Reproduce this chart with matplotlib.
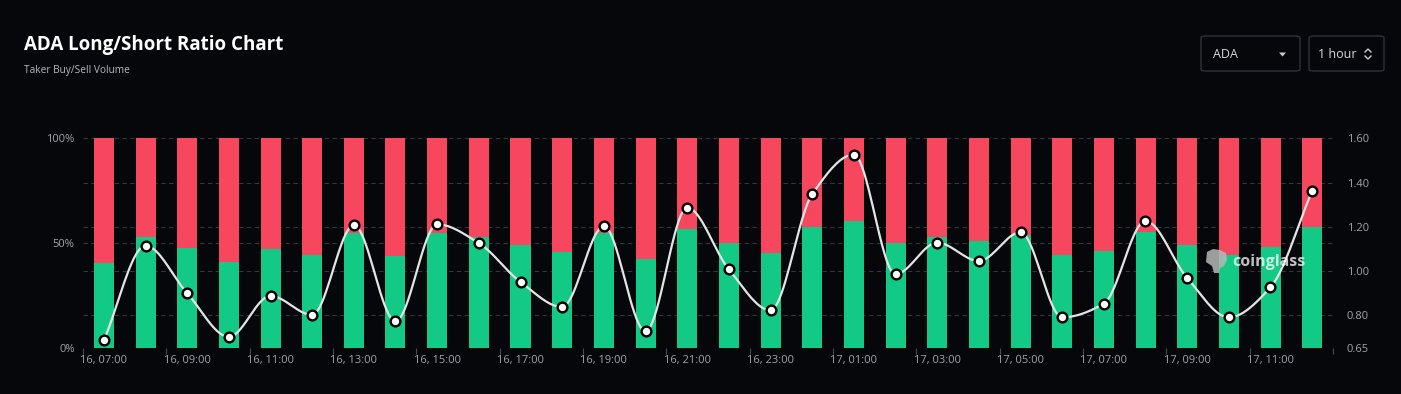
import numpy as np
import matplotlib
matplotlib.use("Agg")
import matplotlib.pyplot as plt
from matplotlib.patches import FancyBboxPatch, Polygon
from matplotlib.lines import Line2D

# Hourly data, 16 07:00 -> 17 12:00
HOURS = ["16, 07:00", "16, 08:00", "16, 09:00", "16, 10:00", "16, 11:00", "16, 12:00",
         "16, 13:00", "16, 14:00", "16, 15:00", "16, 16:00", "16, 17:00", "16, 18:00",
         "16, 19:00", "16, 20:00", "16, 21:00", "16, 22:00", "16, 23:00", "17, 00:00",
         "17, 01:00", "17, 02:00", "17, 03:00", "17, 04:00", "17, 05:00", "17, 06:00",
         "17, 07:00", "17, 08:00", "17, 09:00", "17, 10:00", "17, 11:00", "17, 12:00"]
LONG_PCT = [40.8, 52.9, 47.6, 41.2, 47.1, 44.6, 54.8, 43.8, 54.9, 53.1,
            49.0, 45.9, 54.8, 42.4, 56.7, 50.3, 45.2, 57.6, 60.6, 50.0,
            53.1, 51.2, 54.0, 44.3, 46.2, 55.2, 49.3, 44.3, 48.2, 57.9]
RATIO = [0.686, 1.114, 0.899, 0.702, 0.887, 0.801, 1.207, 0.772, 1.211, 1.126,
         0.950, 0.837, 1.202, 0.727, 1.286, 1.007, 0.822, 1.347, 1.526, 0.985,
         1.128, 1.045, 1.175, 0.790, 0.852, 1.226, 0.968, 0.790, 0.926, 1.362]
RATIO_TICKS = [0.65, 0.80, 1.00, 1.20, 1.40, 1.60]

BG = "#05070b"
GREEN = "#12c985"
RED = "#f6475f"
TICK_COLOR = "#a0a3a8"
GRID_COLOR = "#33363c"


def pchip(x, y, xs):
    # monotone cubic (Fritsch-Carlson) just for drawing the smooth line
    x = np.asarray(x, float)
    y = np.asarray(y, float)
    h = np.diff(x)
    d = np.diff(y) / h
    n = len(x)
    m = np.zeros(n)
    for k in range(1, n - 1):
        if d[k - 1] * d[k] > 0:
            w1 = 2 * h[k] + h[k - 1]
            w2 = h[k] + 2 * h[k - 1]
            m[k] = (w1 + w2) / (w1 / d[k - 1] + w2 / d[k])
    m[0] = d[0]
    m[-1] = d[-1]
    idx = np.clip(np.searchsorted(x, xs) - 1, 0, n - 2)
    t = (xs - x[idx]) / h[idx]
    h00 = 2 * t**3 - 3 * t**2 + 1
    h10 = t**3 - 2 * t**2 + t
    h01 = -2 * t**3 + 3 * t**2
    h11 = t**3 - t**2
    return h00 * y[idx] + h10 * h[idx] * m[idx] + h01 * y[idx + 1] + h11 * h[idx] * m[idx + 1]


plt.rcParams["font.family"] = ["Open Sans", "DejaVu Sans"]

W, H = 1401, 394
fig = plt.figure(figsize=(W / 100, H / 100), dpi=100, facecolor=BG)


def fx(px):
    return px / W


def fy(py):
    return 1 - py / H


ax = fig.add_axes([fx(83), fy(348.3), fx(1333) - fx(83), fy(138.3) - fy(348.3)])
ax.set_facecolor(BG)

x = np.arange(len(HOURS))
long_pct = np.array(LONG_PCT)
ax.bar(x, long_pct, width=0.48, color=GREEN, zorder=2)
ax.bar(x, 100 - long_pct, bottom=long_pct, width=0.48, color=RED, zorder=2)
ax.set_xlim(-0.5, len(HOURS) - 0.5)
ax.set_ylim(0, 100)

ax.set_yticks([0, 50, 100])
ax.set_yticklabels(["0%", "50%", "100%"])
ax.set_yticks([(v - 0.65) / 0.95 * 100 for v in RATIO_TICKS], minor=True)
ax.grid(axis="y", which="both", color=GRID_COLOR, linestyle=(0, (4, 3)), linewidth=0.8, zorder=0)
ax.tick_params(axis="y", which="both", length=0, pad=6, labelsize=8, labelcolor=TICK_COLOR)

ax.set_xticks(x[::2])
ax.set_xticklabels(HOURS[::2])
ax.set_xticks(np.arange(-0.5, len(HOURS), 2), minor=True)
ax.tick_params(axis="x", which="major", length=0, pad=5, labelsize=8, labelcolor=TICK_COLOR)
ax.tick_params(axis="x", which="minor", length=4, width=0.8, color="#4a4d53")
for s in ax.spines.values():
    s.set_visible(False)

ax2 = ax.twinx()
ax2.set_ylim(0.65, 1.60)
xs = np.linspace(0, len(HOURS) - 1, 600)
ax2.plot(xs, pchip(x, RATIO, xs), color="#e4e4e4", linewidth=1.6, zorder=3)
ax2.plot(x, RATIO, linestyle="none", marker="o", markersize=7,
         markerfacecolor="white", markeredgecolor="black", markeredgewidth=1.7, zorder=4)
ax2.set_yticks(RATIO_TICKS)
ax2.set_yticklabels([f"{v:.2f}" for v in RATIO_TICKS])
ax2.tick_params(axis="y", length=0, pad=10, labelsize=8, labelcolor=TICK_COLOR)
for s in ax2.spines.values():
    s.set_visible(False)

# watermark
fig.text(fx(1232), fy(262), "coinglass", color="white", alpha=0.75, fontsize=11.5,
         fontweight="bold", va="center", ha="left")
logo = [(1207, 252), (1213, 249), (1220, 250), (1226, 253), (1227, 260), (1224, 266),
        (1220, 268), (1219, 273), (1214, 273), (1212, 266), (1206, 262)]
fig.patches.append(Polygon([(fx(a), fy(b)) for a, b in logo], closed=True,
                           transform=fig.transFigure, facecolor="#b8b8b8", alpha=0.85,
                           edgecolor="none", zorder=5))

# header
fig.text(fx(24), fy(45), "ADA Long/Short Ratio Chart", color="white", fontsize=13.5,
         fontweight="bold", va="center", ha="left")
fig.text(fx(24), fy(71), "Taker Buy/Sell Volume", color="#b5b8bd", fontsize=7.3,
         va="center", ha="left")

# dropdown boxes
for x0, x1 in [(1201, 1300), (1309, 1384)]:
    fig.patches.append(FancyBboxPatch((fx(x0), fy(71)), fx(x1) - fx(x0), fy(36) - fy(71),
                                      boxstyle="round,pad=0,rounding_size=0.004",
                                      transform=fig.transFigure, facecolor=BG,
                                      edgecolor="#2e3238", linewidth=1.0))
fig.text(fx(1213), fy(54), "ADA", color="#d6d8dc", fontsize=9, va="center", ha="left")
fig.patches.append(Polygon([(fx(1279), fy(52.5)), (fx(1286), fy(52.5)), (fx(1282.5), fy(56.5))],
                           closed=True, transform=fig.transFigure, facecolor="#c8cacd",
                           edgecolor="none"))
fig.text(fx(1318), fy(54), "1 hour", color="#d6d8dc", fontsize=9, va="center", ha="left")
for pts in [[(1365, 52), (1368, 49), (1371, 52)], [(1365, 56), (1368, 59), (1371, 56)]]:
    fig.lines.append(Line2D([fx(a) for a, b in pts], [fy(b) for a, b in pts],
                            transform=fig.transFigure, color="#c8cacd", linewidth=1.0))

fig.savefig("out.png", dpi=100, facecolor=BG)
